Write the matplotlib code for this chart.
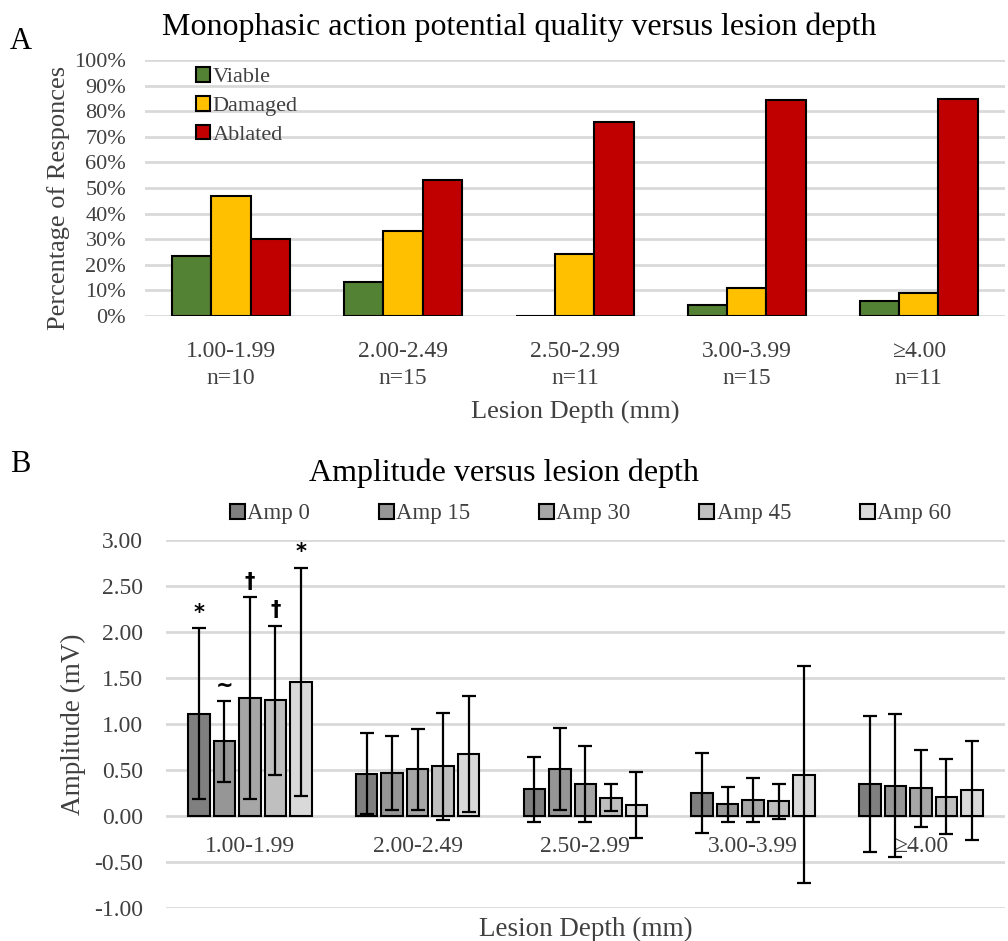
import numpy as np
import matplotlib.pyplot as plt
from matplotlib.patches import Patch

plt.rcParams['font.family'] = ['Liberation Serif', 'DejaVu Serif']

# --- panel A data: share of responses (%) by lesion depth
depth_a = ['1.00-1.99\nn=10', '2.00-2.49\nn=15', '2.50-2.99\nn=11',
           '3.00-3.99\nn=15', '≥4.00\nn=11']
viable = [23.3, 13.3, 0.0, 4.4, 5.9]
damaged = [46.7, 33.3, 24.2, 11.1, 8.8]
ablated = [30.0, 53.3, 75.8, 84.4, 84.6]

# --- panel B data: mean amplitude (mV) and error
depth_b = ['1.00-1.99', '2.00-2.49', '2.50-2.99', '3.00-3.99', '≥4.00']
amp_names = ['Amp 0', 'Amp 15', 'Amp 30', 'Amp 45', 'Amp 60']
amp_mean = [
    [1.11, 0.46, 0.29, 0.25, 0.35],
    [0.81, 0.47, 0.51, 0.13, 0.33],
    [1.28, 0.51, 0.35, 0.17, 0.30],
    [1.26, 0.54, 0.20, 0.16, 0.21],
    [1.46, 0.67, 0.12, 0.45, 0.28],
]
amp_err = [
    [0.93, 0.44, 0.35, 0.44, 0.74],
    [0.44, 0.40, 0.45, 0.19, 0.78],
    [1.10, 0.44, 0.41, 0.24, 0.42],
    [0.81, 0.58, 0.15, 0.19, 0.41],
    [1.24, 0.63, 0.36, 1.18, 0.54],
]
marks = ['*', '~', '†', '†', '*']

fig = plt.figure(figsize=(10.08, 9.41), dpi=100)
txt = '#404040'
grid = '#d9d9d9'

# ---------------- panel A
ax1 = fig.add_axes([0.1438, 0.6642, 0.853, 0.272])
x = np.arange(len(depth_a))
w = 0.228
cols_a = ['#548235', '#ffc000', '#c00000']
for i, (vals, c, lab) in enumerate(zip([viable, damaged, ablated], cols_a,
                                       ['Viable', 'Damaged', 'Ablated'])):
    ax1.bar(x + (i - 1) * w, vals, w, color=c, edgecolor='black',
            linewidth=1.5, label=lab, zorder=3)
ax1.set_ylim(0, 100)
ax1.set_xlim(-0.5, 4.5)
ax1.set_yticks(np.arange(0, 101, 10))
ax1.set_yticklabels([f'{v}%' for v in range(0, 101, 10)])
ax1.set_xticks(x)
ax1.set_xticklabels(depth_a, linespacing=1.4, fontsize=17)
ax1.tick_params(length=0, colors=txt)
ax1.tick_params(axis='x', pad=18)
ax1.tick_params(axis='y', pad=13.5, labelsize=16)
ax1.yaxis.grid(True, color=grid, linewidth=2)
ax1.set_axisbelow(True)
for s in ax1.spines.values():
    s.set_visible(False)
ax1.set_ylabel('Percentage of Responces', fontsize=19, color=txt, labelpad=3,
               y=0.46)
ax1.set_xlabel('Lesion Depth (mm)', fontsize=19, color=txt, labelpad=8)
ax1.legend(loc='upper left', bbox_to_anchor=(0.036, 1.05), frameon=False,
           fontsize=16, handlelength=0.65, handleheight=0.65,
           handletextpad=0.1, labelspacing=0.38, labelcolor=txt)
fig.text(0.515, 0.971, 'Monophasic action potential quality versus lesion depth',
         ha='center', va='center', fontsize=23)
fig.text(0.01, 0.956, 'A', fontsize=22, va='center')

# ---------------- panel B
ax2 = fig.add_axes([0.1647, 0.0351, 0.832, 0.391])
xb = np.arange(len(depth_b))
pitch = 0.152
bw = 0.128
grays = ['#7f7f7f', '#969696', '#a6a6a6', '#bfbfbf', '#d9d9d9']
for i in range(5):
    pos = xb + (i - 2) * pitch
    ax2.bar(pos, amp_mean[i], bw, color=grays[i], edgecolor='black',
            linewidth=1.5, zorder=3, label=amp_names[i])
    ax2.errorbar(pos, amp_mean[i], yerr=amp_err[i], fmt='none',
                 ecolor='black', elinewidth=1.6, capsize=5, capthick=1.6,
                 zorder=4)
    # significance marks over the first depth group
    ax2.annotate(marks[i], (pos[0], amp_mean[i][0] + amp_err[i][0]),
                 xytext=(0, 4), textcoords='offset points', ha='center',
                 va='bottom', fontsize=15, fontweight='bold',
                 family=['DejaVu Sans'])
for xi, lab in zip(xb, depth_b):
    ax2.annotate(lab, (xi, 0), xytext=(0, -14.5), textcoords='offset points',
                 ha='center', va='top', fontsize=17, color=txt)
ax2.set_ylim(-1, 3)
ax2.set_xlim(-0.5, 4.5)
ax2.set_yticks(np.arange(-1, 3.01, 0.5))
ax2.set_yticklabels([f'{v:.2f}' for v in np.arange(-1, 3.01, 0.5)])
ax2.set_xticks([])
ax2.tick_params(length=0, labelsize=17, colors=txt, pad=16.5)
ax2.yaxis.grid(True, color=grid, linewidth=2)
ax2.set_axisbelow(True)
for s in ax2.spines.values():
    s.set_visible(False)
ax2.set_ylabel('Amplitude (mV)', fontsize=19.5, color=txt, labelpad=6)
ax2.set_xlabel('Lesion Depth (mm)', fontsize=19.5, color=txt, labelpad=6.5)
handles = [Patch(facecolor=g, edgecolor='black', linewidth=1.5) for g in grays]
fig.legend(handles, amp_names, loc='center', bbox_to_anchor=(0.586, 0.454),
           ncol=5, frameon=False, fontsize=16.5, handlelength=0.65,
           handleheight=0.65, handletextpad=0.1, columnspacing=3.0,
           labelcolor=txt)
fig.text(0.5, 0.497, 'Amplitude versus lesion depth', ha='center',
         va='center', fontsize=23)
fig.text(0.01, 0.506, 'B', fontsize=22, va='center')

fig.savefig('out.png', dpi=100)
